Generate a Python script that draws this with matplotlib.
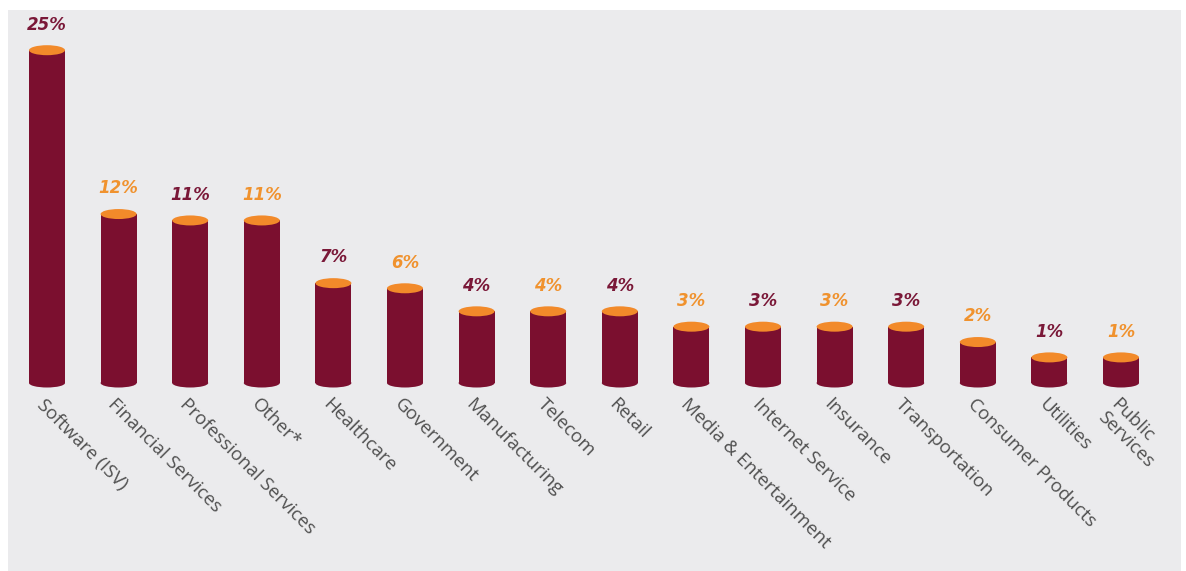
import matplotlib
matplotlib.use('Agg')
import matplotlib.pyplot as plt
import matplotlib.patches as patches

categories = ['Software (ISV)', 'Financial Services', 'Professional Services', 'Other*',
              'Healthcare', 'Government', 'Manufacturing', 'Telecom', 'Retail',
              'Media & Entertainment', 'Internet Service', 'Insurance', 'Transportation',
              'Consumer Products', 'Utilities', 'Public\nServices']
# printed labels
shares = [25, 12, 11, 11, 7, 6, 4, 4, 4, 3, 3, 3, 3, 2, 1, 1]
# bar heights as drawn in the picture (not exactly proportional to the labels)
bar_levels = [25.0, 12.2, 11.7, 11.7, 6.8, 6.4, 4.6, 4.6, 4.6, 3.4, 3.4, 3.4, 3.4,
              2.2, 1.0, 1.0]

BODY = '#7b0f2f'
TOP = '#f28a2a'
LBL_DARK = '#7a1838'
LBL_ORANGE = '#f0922e'
TEXT = '#505050'
PANEL = '#ebebed'

W, H = 1186, 571
fig = plt.figure(figsize=(W / 100, H / 100), dpi=100)
fig.patch.set_facecolor('white')

# gray panel behind the chart
fig.add_artist(patches.Rectangle((8 / W, 0), (1181 - 8) / W, (571 - 10) / H,
                                 transform=fig.transFigure, facecolor=PANEL,
                                 edgecolor='none', zorder=0))

# axes: x unit = 71.6 px, y unit = 12.8 px, baseline (-1) at y=383 px
px_x, px_y = 71.6, 12.8
ymin = -1.0
x0 = 47 - 0.55 * px_x
ax = fig.add_axes([x0 / W, (H - 383) / H, 16.1 * px_x / W, 373 / H])
ax.set_xlim(-0.55, 15.55)
ax.set_ylim(ymin, ymin + 373 / px_y)
ax.patch.set_alpha(0)
ax.axis('off')

bw = 36 / px_x
eh = 10 / px_y
xs = list(range(len(categories)))

ax.bar(xs, [v - ymin for v in bar_levels], bottom=ymin, width=bw, color=BODY, zorder=2)

for i, v in enumerate(bar_levels):
    # rounded bottom and orange lid
    ax.add_patch(patches.Ellipse((i, ymin), bw, eh * 0.9, facecolor=BODY,
                                 edgecolor='none', zorder=2, clip_on=False))
    ax.add_patch(patches.Ellipse((i, v), bw, eh, facecolor=TOP,
                                 edgecolor='none', zorder=3))
    col = LBL_DARK if i % 2 == 0 else LBL_ORANGE
    ax.annotate(f'{shares[i]}%', (i, v), xytext=(0, 12), textcoords='offset points',
                ha='center', va='bottom', fontsize=12, fontweight='bold',
                fontstyle='italic', color=col, family='DejaVu Sans')
    ax.annotate(categories[i], (i, ymin), xytext=(-1, -9), textcoords='offset points',
                rotation=-45, rotation_mode='anchor', ha='left', va='top',
                fontsize=13.5, color=TEXT, family='Open Sans', linespacing=1.0,
                annotation_clip=False)

fig.savefig('out.png', dpi=100, facecolor=fig.get_facecolor())
